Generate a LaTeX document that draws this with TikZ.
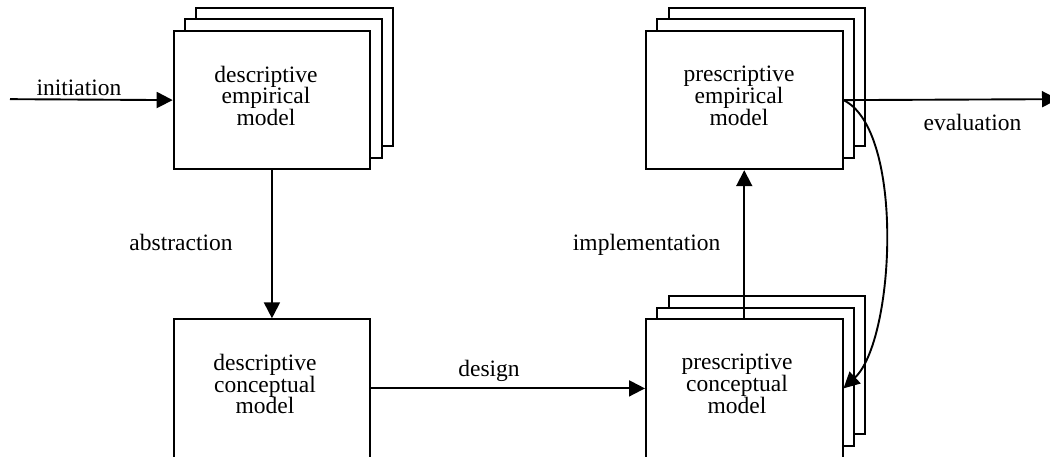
\documentclass[tikz,border=0pt]{standalone}
\usepackage{fontspec}
\setmainfont{Liberation Serif}
\usetikzlibrary{arrows.meta}
\begin{document}
\begin{tikzpicture}[x=1pt,y=-1pt,line width=1.9pt,
  box/.style={draw,fill=white,minimum width=196.6pt,minimum height=138.3pt,inner sep=0pt,anchor=north west},
  txt/.style={font=\fontsize{23.5}{21.7}\selectfont,align=center,inner sep=0pt},
  lbl/.style={font=\fontsize{23.5}{21.7}\selectfont,inner sep=0pt,anchor=base},
  arr/.style={-{Triangle[length=16pt,width=16pt]}}]
\useasboundingbox (0,0) rectangle (1050,456);
\clip (0,0) rectangle (1050,456);
% descriptive empirical model (stack)
\node[box] (del3) at (195.3,6.7) {};
\node[box] (del2) at (184,18.3) {};
\node[box] (del) at (172.7,30) {};
\node[txt] (delt) at (266,95.8) {descriptive\\empirical\\model};
% descriptive conceptual model
\node[box] (dcm) at (172.7,318.3) {};
\node[txt] (dcmt) at (265,384) {descriptive\\conceptual\\model};
% prescriptive empirical model (stack)
\node[box] (pem3) at (667.6,6.7) {};
\node[box] (pem2) at (656.3,18.3) {};
\node[box] (pem) at (645,30) {};
\node[txt] (pemt) at (739,95.8) {prescriptive\\empirical\\model};
% prescriptive conceptual model (stack)
\node[box] (pcm3) at (667.6,295) {};
\node[box] (pcm2) at (656.3,306.7) {};
\node[box] (pcm) at (645,318.3) {};
\node[txt] (pcmt) at (737,384) {prescriptive\\conceptual\\model};
% connectors
\coordinate (ini) at (10,99.15);
\coordinate (evo) at (1058,99.15);
\draw[arr] (ini) -- (del.west);
\draw[arr] (del.south) -- (dcm.north);
\draw[arr] (dcm.east) -- (pcm.west);
\draw[arr] (pcm.north) -- (pem.south);
\draw[arr] (pem.east) -- (evo);
\draw[arr] (pem.east) .. controls (905,130) and (895,340) .. (pcm.east);
% labels
\node[lbl] (l1) at (79,95) {initiation};
\node[lbl] (l2) at (181,250.7) {abstraction};
\node[lbl] (l3) at (489,376.7) {design};
\node[lbl] (l4) at (646.7,250.7) {implementation};
\node[lbl] (l5) at (972.5,130) {evaluation};
\end{tikzpicture}
\end{document}
